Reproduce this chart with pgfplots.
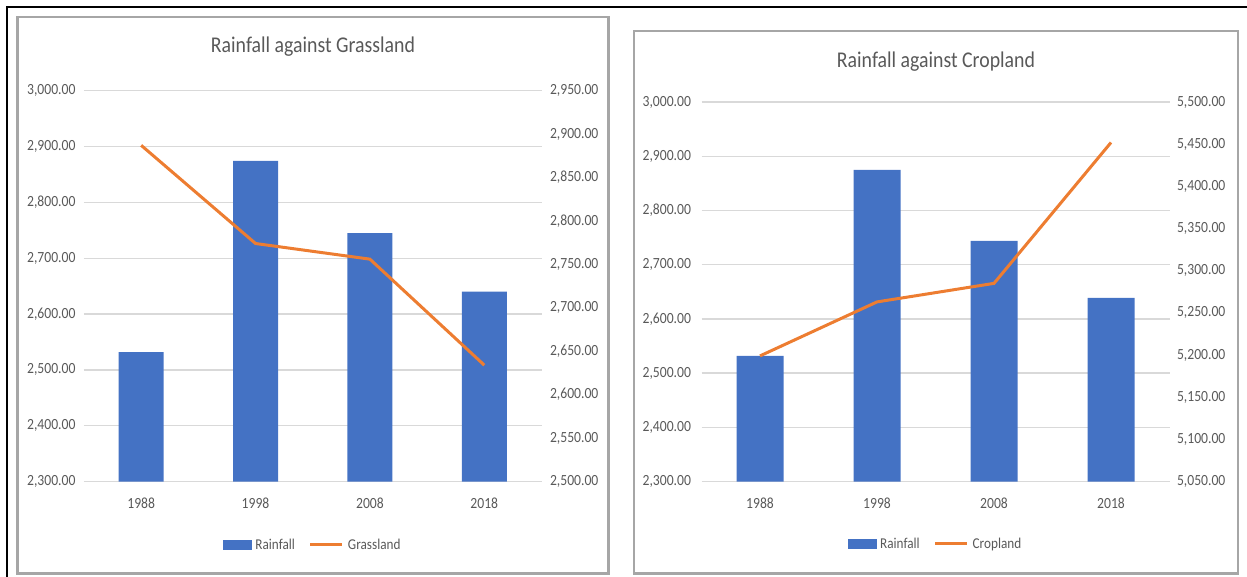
\documentclass[border=0pt]{standalone}
\usepackage{pgfplots}
\pgfplotsset{compat=1.18}
\usepackage{fontspec}
\setmainfont{Carlito}[FakeStretch=0.88]
\definecolor{xlblue}{HTML}{4472C4}
\definecolor{xlorange}{HTML}{ED7D31}
\definecolor{xltext}{HTML}{595959}
\definecolor{xlgrid}{HTML}{D9D9D9}
\definecolor{xlborder}{HTML}{A6A6A6}

\pgfplotsset{
  base/.style={
    scale only axis,
    xmin=-0.5, xmax=3.5,
    xtick={0,1,2,3},
    axis line style={draw=none},
    major tick length=0pt,
    tick label style={font=\fontsize{15.5}{17}\selectfont, text=xltext},
    /pgf/number format/fixed,
    /pgf/number format/fixed zerofill,
    /pgf/number format/precision=2,
    /pgf/number format/1000 sep={,},
    /pgf/number format/assume math mode=true,
  },
  barleg/.style={legend image code/.code={\fill[xlblue] (0pt,-4.5pt) rectangle (28pt,4.5pt);}},
  lineleg/.style={legend image code/.code={\draw[xlorange, line width=3pt] (0pt,0pt) -- (32pt,0pt);}},
}

\begin{document}
\begin{tikzpicture}[x=1pt,y=1pt]
\useasboundingbox (0,0) rectangle (1247,577);
% outer frame
\draw[black, line width=2pt] (7,0) -- (7,570) -- (1247,570);
% panel borders
\draw[xlborder, line width=2.5pt] (17.5,3.5) rectangle (608.5,560);
\draw[xlborder, line width=2.5pt] (634,3.5) rectangle (1238,546);

% ---------------- left panel ----------------
\begin{axis}[base,
  at={(84pt,95.4pt)}, anchor=south west,
  width=457.5pt, height=391pt,
  ymin=2300, ymax=3000, ytick={2300,2400,2500,2600,2700,2800,2900,3000},
  ytick pos=left, xtick pos=bottom,
  ymajorgrids, grid style={xlgrid, line width=1.3pt},
  xticklabels={1988,1998,2008,2018},
  yticklabel style={xshift=-5pt},
  xticklabel style={yshift=-13pt},
]
\addplot[ybar, bar width=45pt, fill=xlblue, draw=none] coordinates {(0,2532) (1,2874) (2,2745) (3,2640)};
\end{axis}
\begin{axis}[base,
  at={(84pt,95.4pt)}, anchor=south west,
  width=457.5pt, height=391pt,
  ymin=2500, ymax=2950, ytick={2500,2550,2600,2650,2700,2750,2800,2850,2900,2950},
  axis y line*=right, hide x axis,
  yticklabel style={xshift=5pt},
  legend style={at={(0.5,-0.162)}, anchor=center, draw=none, fill=none,
    legend columns=2, font=\fontsize{15}{17}\selectfont, text=xltext,
    /tikz/every even column/.append style={column sep=12pt},
    /tikz/every odd column/.append style={column sep=2pt}},
  legend cell align=left,
]
\addlegendimage{barleg}
\addlegendentry{Rainfall}
\addplot[xlorange, line width=3pt, lineleg] coordinates {(0,2887) (1,2774) (2,2756) (3,2634)};
\addlegendentry{Grassland}
\end{axis}
\node[font=\fontsize{22.5}{25}\selectfont, text=xltext] at (313,530) {Rainfall against Grassland};

% ---------------- right panel ----------------
\begin{axis}[base,
  at={(701.5pt,95.4pt)}, anchor=south west,
  width=468pt, height=379.6pt,
  ymin=2300, ymax=3000, ytick={2300,2400,2500,2600,2700,2800,2900,3000},
  ytick pos=left, xtick pos=bottom,
  ymajorgrids, grid style={xlgrid, line width=1.3pt},
  xticklabels={1988,1998,2008,2018},
  yticklabel style={xshift=-7pt},
  xticklabel style={yshift=-13pt},
]
\addplot[ybar, bar width=47pt, fill=xlblue, draw=none] coordinates {(0,2532) (1,2875) (2,2744) (3,2639)};
\end{axis}
\begin{axis}[base,
  at={(701.5pt,95.4pt)}, anchor=south west,
  width=468pt, height=379.6pt,
  ymin=5050, ymax=5500, ytick={5050,5100,5150,5200,5250,5300,5350,5400,5450,5500},
  axis y line*=right, hide x axis,
  yticklabel style={xshift=4pt},
  legend style={at={(0.5,-0.164)}, anchor=center, draw=none, fill=none,
    legend columns=2, font=\fontsize{15}{17}\selectfont, text=xltext,
    /tikz/every even column/.append style={column sep=12pt},
    /tikz/every odd column/.append style={column sep=2pt}},
  legend cell align=left,
]
\addlegendimage{barleg}
\addlegendentry{Rainfall}
\addplot[xlorange, line width=3pt, lineleg] coordinates {(0,5199) (1,5263) (2,5285) (3,5452)};
\addlegendentry{Cropland}
\end{axis}
\node[font=\fontsize{22.5}{25}\selectfont, text=xltext] at (936,515) {Rainfall against Cropland};
\end{tikzpicture}
\end{document}
